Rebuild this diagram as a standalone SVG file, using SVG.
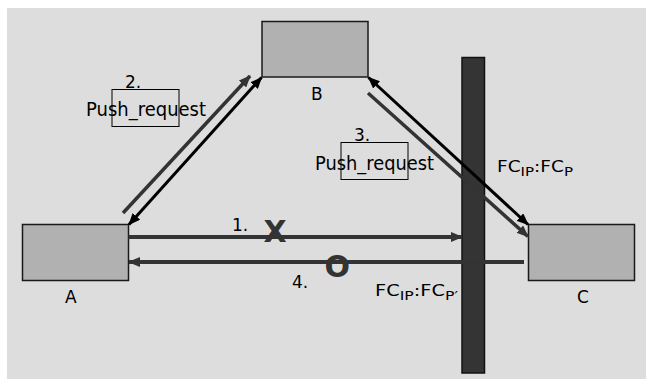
<svg xmlns="http://www.w3.org/2000/svg" width="646" height="379" viewBox="0 0 646 379">
  <style>
    .node { fill: #b1b1b1; stroke: #1a1a1a; stroke-width: 1.5; }
    .wall { fill: #343434; stroke: #111; stroke-width: 1.5; }
    .lbl { font-family: "DejaVu Sans", Verdana, sans-serif; font-size: 17px; fill: #000; }
    .msg { font-family: "DejaVu Sans", Verdana, sans-serif; font-size: 19.5px; fill: #000; }
    .fc { font-family: "DejaVu Sans", Verdana, sans-serif; font-size: 16px; fill: #000; }
    .sub { font-size: 13px; }
    .mark { font-family: "DejaVu Sans", Verdana, sans-serif; font-weight: bold; font-size: 30px; fill: #333; }
    .box { fill: none; stroke: #000; stroke-width: 1; }
    .flow { fill: none; stroke: #333; stroke-width: 4; }
    .diag { fill: none; stroke: #333; stroke-width: 3.5; }
    .resp { fill: none; stroke: #000; stroke-width: 3; }
  </style>
  <defs>
    <marker id="headGray" markerUnits="userSpaceOnUse" markerWidth="12" markerHeight="10" refX="11" refY="5" orient="auto">
      <path d="M0,0 L12,5 L0,10 Z" fill="#333"/>
    </marker>
    <marker id="headBlack" markerUnits="userSpaceOnUse" markerWidth="12" markerHeight="10" refX="11" refY="5" orient="auto-start-reverse">
      <path d="M0,0 L12,5 L0,10 Z" fill="#000"/>
    </marker>
  </defs>

  <!-- canvas -->
  <rect x="7" y="8" width="639" height="371" fill="#dddddd"/>

  <!-- firewall between the networks -->
  <g id="firewall">
    <rect class="wall" x="462" y="57.5" width="22.5" height="315.5"/>
  </g>

  <!-- hosts -->
  <g id="node-A">
    <rect class="node" x="22.5" y="224.5" width="106" height="56"/>
    <text class="lbl" x="65" y="303" font-size="18">A</text>
  </g>
  <g id="node-B">
    <rect class="node" x="262" y="21.5" width="106" height="55.5"/>
    <text class="lbl" x="311" y="100" font-size="18">B</text>
  </g>
  <g id="node-C">
    <rect class="node" x="528.5" y="224.5" width="106" height="56"/>
    <text class="lbl" x="577" y="303" font-size="18">C</text>
  </g>

  <!-- message flows -->
  <g id="connectors">
    <line class="flow" x1="128.5" y1="237" x2="462" y2="237" marker-end="url(#headGray)"/>
    <line class="flow" x1="524" y1="262" x2="129" y2="262" marker-end="url(#headGray)"/>
    <line class="diag" x1="123" y1="213" x2="250" y2="76" marker-end="url(#headGray)"/>
    <line class="resp" x1="129" y1="224.5" x2="261.5" y2="77.5" marker-start="url(#headBlack)" marker-end="url(#headBlack)"/>
    <line class="resp" x1="368.5" y1="77.5" x2="528" y2="224.5" marker-start="url(#headBlack)" marker-end="url(#headBlack)"/>
    <line class="diag" x1="368" y1="93" x2="528" y2="236.5" marker-end="url(#headGray)"/>
  </g>

  <!-- flow labels -->
  <g id="labels">
    <text class="lbl" x="232" y="231">1.</text>
    <text class="mark" x="263.5" y="241.5">X</text>
    <text class="lbl" x="125" y="88">2.</text>
    <rect class="box" x="112" y="89.5" width="67" height="37"/>
    <text class="msg" x="86" y="116" textLength="120" lengthAdjust="spacingAndGlyphs">Push_request</text>
    <text class="lbl" x="354" y="141">3.</text>
    <rect class="box" x="341" y="142.5" width="67" height="37"/>
    <text class="msg" x="315" y="169.5" textLength="119" lengthAdjust="spacingAndGlyphs">Push_request</text>
    <text class="lbl" x="292" y="288">4.</text>
    <text class="mark" x="324.5" y="277">O</text>
    <text class="fc" x="497" y="172" textLength="76" lengthAdjust="spacingAndGlyphs">FC<tspan class="sub" dy="4">IP</tspan><tspan dy="-4">:FC</tspan><tspan class="sub" dy="4">P</tspan></text>
    <text class="fc" x="375" y="296" textLength="83" lengthAdjust="spacingAndGlyphs">FC<tspan class="sub" dy="4">IP</tspan><tspan dy="-4">:FC</tspan><tspan class="sub" dy="4">P′</tspan></text>
  </g>
</svg>
